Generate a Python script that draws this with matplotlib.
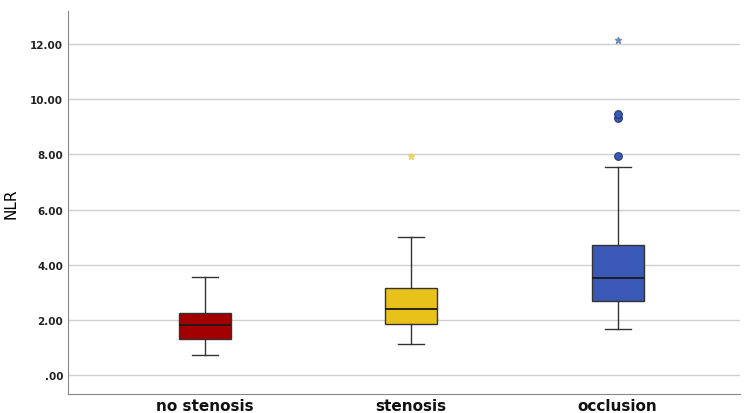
import matplotlib.pyplot as plt

groups = ['no stenosis', 'stenosis', 'occlusion']
whislo = [0.72, 1.12, 1.67]
q1 = [1.30, 1.85, 2.68]
med = [1.81, 2.39, 3.52]
q3 = [2.25, 3.15, 4.71]
whishi = [3.55, 5.00, 7.54]
circle_out = [[], [], [7.94, 9.32, 9.46]]
star_out = [[], [7.94], [12.15]]
colors = ['#A30000', '#E8C11B', '#3A59B6']
star_colors = ['#A30000', '#E9D46A', '#6F88BE']
yticks = [0, 2, 4, 6, 8, 10, 12]
ylabels = ['.00', '2.00', '4.00', '6.00', '8.00', '10.00', '12.00']

fig = plt.figure(figsize=(7.47, 4.14), dpi=100)
ax = fig.add_axes([0.091, 0.046, 0.899, 0.925])

stats = []
for i in range(3):
    stats.append({'whislo': whislo[i], 'q1': q1[i], 'med': med[i],
                  'q3': q3[i], 'whishi': whishi[i], 'fliers': circle_out[i]})

pos = [1, 2, 3]
bp = ax.bxp(stats, positions=pos, widths=0.25, patch_artist=True,
            showfliers=True,
            medianprops=dict(color='#1a1a1a', linewidth=1.3),
            whiskerprops=dict(color='#333333', linewidth=1),
            capprops=dict(color='#333333', linewidth=1),
            boxprops=dict(edgecolor='#333333', linewidth=1),
            flierprops=dict(marker='o', markersize=5.5, markerfacecolor=colors[2],
                            markeredgecolor='#26386e', markeredgewidth=0.8))
for patch, c in zip(bp['boxes'], colors):
    patch.set_facecolor(c)
# shorter caps than the box
for cap in bp['caps']:
    x = cap.get_xdata()
    mid = (x[0] + x[1]) / 2
    cap.set_xdata([mid - 0.062, mid + 0.062])

for i in range(3):
    if star_out[i]:
        ax.plot([pos[i]] * len(star_out[i]), star_out[i], linestyle='none',
                marker='*', markersize=5, color=star_colors[i], zorder=3)

ax.set_xlim(0.337, 3.59)
ax.set_ylim(-0.69, 13.2)
ax.set_yticks(yticks)
ax.set_yticklabels(ylabels, fontsize=7.5, fontweight='bold', color='#222222')
ax.set_xticks(pos)
ax.set_xticklabels(groups, fontsize=11, fontweight='bold', color='#111111')
ax.tick_params(axis='both', length=0)
ax.tick_params(axis='x', pad=3)
ax.set_ylabel('NLR', fontsize=11)
ax.yaxis.set_label_coords(-0.074, 0.5)
ax.yaxis.grid(True, color='#cfcfcf', linewidth=1)
ax.set_axisbelow(True)
for s in ['top', 'right']:
    ax.spines[s].set_visible(False)
for s in ['left', 'bottom']:
    ax.spines[s].set_color('#888888')

fig.savefig('out.png', dpi=100)
